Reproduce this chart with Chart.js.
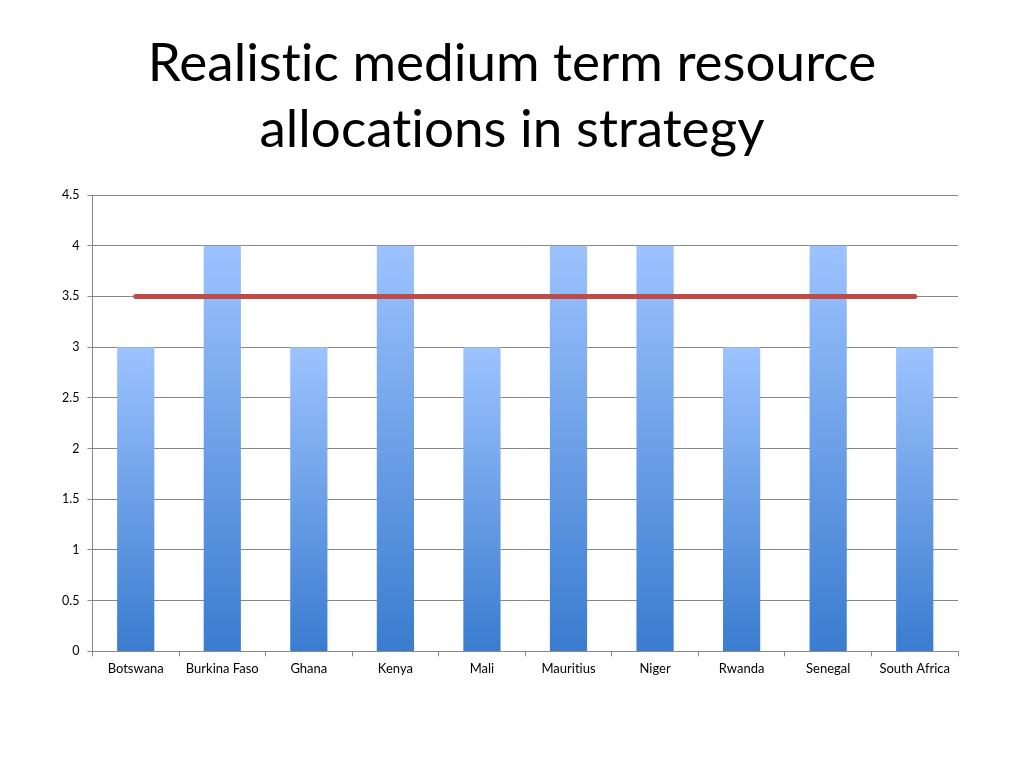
<!DOCTYPE html>
<html><head><meta charset="utf-8">
<script src="https://cdn.jsdelivr.net/npm/chart.js@4"></script>
<style>
html,body{margin:0;padding:0;background:#fff;}
#wrap{position:relative;width:1024px;height:768px;}
#title{position:absolute;left:0;top:28px;width:1024px;text-align:center;font-family:Lato,"Open Sans",sans-serif;font-size:53px;line-height:66px;color:#000;font-variant-ligatures:none;font-feature-settings:"liga" 0, "clig" 0, "dlig" 0;}
#c{position:absolute;left:0;top:0;}
</style></head>
<body><div id="wrap">
<div id="title">Realis&zwnj;tic medium term resource<br>alloca&zwnj;tions in strategy</div>
<canvas id="c" width="1024" height="768"></canvas>
</div>
<script>
const categories = ["Botswana","Burkina Faso","Ghana","Kenya","Mali","Mauritius","Niger","Rwanda","Senegal","South Africa"];
const allocations = [3,4,3,4,3,4,4,3,4,3];
const targetLine = [3.5,3.5,3.5,3.5,3.5,3.5,3.5,3.5,3.5,3.5];
const yTicks = [0,0.5,1,1.5,2,2.5,3,3.5,4,4.5];

function barGradient(ctx){
  const chart = ctx.chart;
  const ys = chart.scales && chart.scales.y;
  if(!chart.chartArea || !ys) return '#6fa0e8';
  const v = ctx.raw;
  const top = ys.getPixelForValue(v);
  const bot = ys.getPixelForValue(0);
  const g = chart.ctx.createLinearGradient(0, top, 0, bot);
  g.addColorStop(0, '#9DC3FF');
  g.addColorStop(1, '#3A7CCF');
  return g;
}

Chart.defaults.font.family = 'Lato, "Open Sans", sans-serif';
Chart.defaults.color = '#000';
new Chart(document.getElementById('c'), {
  data: {
    labels: categories,
    datasets: [
      {type:'line', data: targetLine, borderColor:'#BE4B48', borderWidth:5, pointRadius:0, borderCapStyle:'round', order:0},
      {type:'bar', data: allocations, backgroundColor: barGradient, categoryPercentage:1, barPercentage:0.43, order:1}
    ]
  },
  options: {
    responsive:false, animation:false,
    layout:{padding:{top:195, left:54, right:66, bottom:86}},
    plugins:{legend:{display:false}, tooltip:{enabled:false}},
    scales:{
      x:{
        grid:{display:true, drawOnChartArea:false, offset:true, tickLength:5, color:'#888'},
        border:{color:'#888'},
        ticks:{font:{size:13}, padding:5, callback: (v, i) => categories[i].replace(/ti/g, 't\u200Ci')}
      },
      y:{
        min:0, max:4.5,
        afterBuildTicks: s => { s.ticks = yTicks.map(v=>({value:v})); },
        grid:{color:'#888', tickLength:5},
        border:{color:'#888'},
        ticks:{font:{size:12.5}, padding:8, callback: v => String(v)}
      }
    }
  }
});
</script>
</body></html>
